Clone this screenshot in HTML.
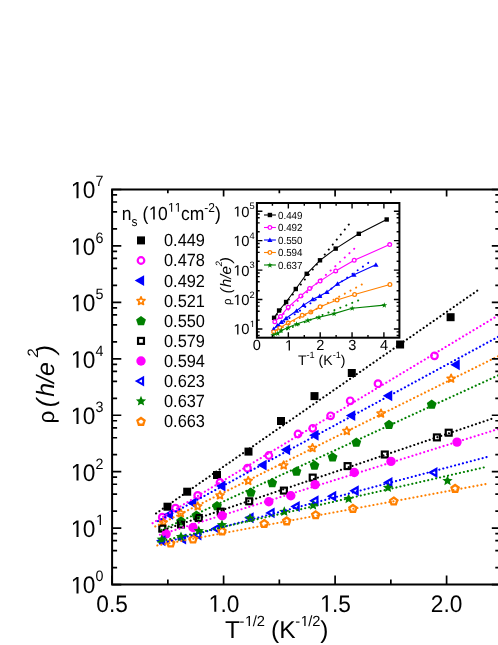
<!DOCTYPE html><html><head><meta charset="utf-8"><style>html,body{margin:0;padding:0;background:#fff}svg{display:block;will-change:transform}text{font-family:"Liberation Sans",sans-serif;fill:#000;text-rendering:geometricPrecision}</style></head><body>
<svg width="498" height="645" viewBox="0 0 498 645">
<rect width="498" height="645" fill="#fff"/>
<rect x="163.50" y="502.70" width="8.00" height="8.00" fill="#000"/>
<rect x="183.20" y="487.70" width="8.00" height="8.00" fill="#000"/>
<rect x="213.00" y="471.00" width="8.00" height="8.00" fill="#000"/>
<rect x="244.50" y="447.60" width="8.00" height="8.00" fill="#000"/>
<rect x="277.00" y="417.00" width="8.00" height="8.00" fill="#000"/>
<rect x="310.50" y="392.10" width="8.00" height="8.00" fill="#000"/>
<rect x="347.80" y="369.00" width="8.00" height="8.00" fill="#000"/>
<rect x="396.10" y="340.50" width="8.00" height="8.00" fill="#000"/>
<rect x="446.60" y="313.20" width="8.00" height="8.00" fill="#000"/>
<circle cx="162.30" cy="517.20" r="3.30" fill="none" stroke="#ff00ff" stroke-width="2.20"/>
<circle cx="175.50" cy="508.20" r="3.30" fill="none" stroke="#ff00ff" stroke-width="2.20"/>
<circle cx="197.70" cy="495.40" r="3.30" fill="none" stroke="#ff00ff" stroke-width="2.20"/>
<circle cx="220.00" cy="482.50" r="3.30" fill="none" stroke="#ff00ff" stroke-width="2.20"/>
<circle cx="247.50" cy="468.20" r="3.30" fill="none" stroke="#ff00ff" stroke-width="2.20"/>
<circle cx="268.80" cy="455.50" r="3.30" fill="none" stroke="#ff00ff" stroke-width="2.20"/>
<circle cx="298.00" cy="434.00" r="3.30" fill="none" stroke="#ff00ff" stroke-width="2.20"/>
<circle cx="312.70" cy="428.30" r="3.30" fill="none" stroke="#ff00ff" stroke-width="2.20"/>
<circle cx="330.60" cy="415.80" r="3.30" fill="none" stroke="#ff00ff" stroke-width="2.20"/>
<circle cx="350.20" cy="400.80" r="3.30" fill="none" stroke="#ff00ff" stroke-width="2.20"/>
<circle cx="378.00" cy="383.70" r="3.30" fill="none" stroke="#ff00ff" stroke-width="2.20"/>
<circle cx="434.50" cy="355.80" r="3.30" fill="none" stroke="#ff00ff" stroke-width="2.20"/>
<polygon points="163.60,514.40 173.05,508.94 173.05,519.86" fill="#0000ff"/>
<polygon points="187.00,503.00 196.45,497.54 196.45,508.46" fill="#0000ff"/>
<polygon points="216.00,486.00 225.45,480.54 225.45,491.46" fill="#0000ff"/>
<polygon points="257.20,465.10 266.65,459.64 266.65,470.56" fill="#0000ff"/>
<polygon points="280.70,449.70 290.15,444.24 290.15,455.16" fill="#0000ff"/>
<polygon points="309.10,435.30 318.55,429.84 318.55,440.76" fill="#0000ff"/>
<polygon points="345.80,415.60 355.25,410.14 355.25,421.06" fill="#0000ff"/>
<polygon points="382.80,395.70 392.25,390.24 392.25,401.16" fill="#0000ff"/>
<polygon points="450.30,364.80 459.75,359.34 459.75,370.26" fill="#0000ff"/>
<polygon points="163.20,518.40 164.32,521.06 167.19,521.30 165.01,523.19 165.67,526.00 163.20,524.50 160.73,526.00 161.39,523.19 159.21,521.30 162.08,521.06" fill="none" stroke="#ff8000" stroke-width="1.70" stroke-linejoin="round"/>
<polygon points="180.80,509.10 181.92,511.76 184.79,512.00 182.61,513.89 183.27,516.70 180.80,515.20 178.33,516.70 178.99,513.89 176.81,512.00 179.68,511.76" fill="none" stroke="#ff8000" stroke-width="1.70" stroke-linejoin="round"/>
<polygon points="197.70,502.10 198.82,504.76 201.69,505.00 199.51,506.89 200.17,509.70 197.70,508.20 195.23,509.70 195.89,506.89 193.71,505.00 196.58,504.76" fill="none" stroke="#ff8000" stroke-width="1.70" stroke-linejoin="round"/>
<polygon points="220.00,491.10 221.12,493.76 223.99,494.00 221.81,495.89 222.47,498.70 220.00,497.20 217.53,498.70 218.19,495.89 216.01,494.00 218.88,493.76" fill="none" stroke="#ff8000" stroke-width="1.70" stroke-linejoin="round"/>
<polygon points="248.20,476.70 249.32,479.36 252.19,479.60 250.01,481.49 250.67,484.30 248.20,482.80 245.73,484.30 246.39,481.49 244.21,479.60 247.08,479.36" fill="none" stroke="#ff8000" stroke-width="1.70" stroke-linejoin="round"/>
<polygon points="283.70,461.20 284.82,463.86 287.69,464.10 285.51,465.99 286.17,468.80 283.70,467.30 281.23,468.80 281.89,465.99 279.71,464.10 282.58,463.86" fill="none" stroke="#ff8000" stroke-width="1.70" stroke-linejoin="round"/>
<polygon points="312.50,443.80 313.62,446.46 316.49,446.70 314.31,448.59 314.97,451.40 312.50,449.90 310.03,451.40 310.69,448.59 308.51,446.70 311.38,446.46" fill="none" stroke="#ff8000" stroke-width="1.70" stroke-linejoin="round"/>
<polygon points="346.80,426.80 347.92,429.46 350.79,429.70 348.61,431.59 349.27,434.40 346.80,432.90 344.33,434.40 344.99,431.59 342.81,429.70 345.68,429.46" fill="none" stroke="#ff8000" stroke-width="1.70" stroke-linejoin="round"/>
<polygon points="381.00,409.30 382.12,411.96 384.99,412.20 382.81,414.09 383.47,416.90 381.00,415.40 378.53,416.90 379.19,414.09 377.01,412.20 379.88,411.96" fill="none" stroke="#ff8000" stroke-width="1.70" stroke-linejoin="round"/>
<polygon points="451.10,374.40 452.22,377.06 455.09,377.30 452.91,379.19 453.57,382.00 451.10,380.50 448.63,382.00 449.29,379.19 447.11,377.30 449.98,377.06" fill="none" stroke="#ff8000" stroke-width="1.70" stroke-linejoin="round"/>
<polygon points="181.00,516.25 185.90,519.81 184.03,525.57 177.97,525.57 176.10,519.81" fill="#008000"/>
<polygon points="196.40,510.55 201.30,514.11 199.43,519.87 193.37,519.87 191.50,514.11" fill="#008000"/>
<polygon points="217.00,501.05 221.90,504.61 220.03,510.37 213.97,510.37 212.10,504.61" fill="#008000"/>
<polygon points="250.80,487.45 255.70,491.01 253.83,496.77 247.77,496.77 245.90,491.01" fill="#008000"/>
<polygon points="272.20,477.85 277.10,481.41 275.23,487.17 269.17,487.17 267.30,481.41" fill="#008000"/>
<polygon points="296.50,466.45 301.40,470.01 299.53,475.77 293.47,475.77 291.60,470.01" fill="#008000"/>
<polygon points="314.50,460.35 319.40,463.91 317.53,469.67 311.47,469.67 309.60,463.91" fill="#008000"/>
<polygon points="332.60,452.25 337.50,455.81 335.63,461.57 329.57,461.57 327.70,455.81" fill="#008000"/>
<polygon points="356.30,437.55 361.20,441.11 359.33,446.87 353.27,446.87 351.40,441.11" fill="#008000"/>
<polygon points="389.00,419.75 393.90,423.31 392.03,429.07 385.97,429.07 384.10,423.31" fill="#008000"/>
<polygon points="431.70,399.45 436.60,403.01 434.73,408.77 428.67,408.77 426.80,403.01" fill="#008000"/>
<rect x="159.35" y="525.65" width="5.90" height="5.90" fill="none" stroke="#000" stroke-width="2.20"/>
<rect x="178.05" y="521.55" width="5.90" height="5.90" fill="none" stroke="#000" stroke-width="2.20"/>
<rect x="195.85" y="515.05" width="5.90" height="5.90" fill="none" stroke="#000" stroke-width="2.20"/>
<rect x="217.75" y="508.65" width="5.90" height="5.90" fill="none" stroke="#000" stroke-width="2.20"/>
<rect x="246.25" y="498.35" width="5.90" height="5.90" fill="none" stroke="#000" stroke-width="2.20"/>
<rect x="280.95" y="487.65" width="5.90" height="5.90" fill="none" stroke="#000" stroke-width="2.20"/>
<rect x="309.75" y="474.65" width="5.90" height="5.90" fill="none" stroke="#000" stroke-width="2.20"/>
<rect x="344.65" y="463.15" width="5.90" height="5.90" fill="none" stroke="#000" stroke-width="2.20"/>
<rect x="381.85" y="451.55" width="5.90" height="5.90" fill="none" stroke="#000" stroke-width="2.20"/>
<rect x="433.95" y="434.45" width="5.90" height="5.90" fill="none" stroke="#000" stroke-width="2.20"/>
<rect x="445.75" y="429.75" width="5.90" height="5.90" fill="none" stroke="#000" stroke-width="2.20"/>
<circle cx="166.10" cy="534.00" r="4.70" fill="#ff00ff"/>
<circle cx="193.00" cy="527.50" r="4.70" fill="#ff00ff"/>
<circle cx="222.20" cy="515.70" r="4.70" fill="#ff00ff"/>
<circle cx="268.80" cy="501.70" r="4.70" fill="#ff00ff"/>
<circle cx="290.80" cy="495.70" r="4.70" fill="#ff00ff"/>
<circle cx="315.10" cy="484.60" r="4.70" fill="#ff00ff"/>
<circle cx="354.30" cy="472.50" r="4.70" fill="#ff00ff"/>
<circle cx="391.00" cy="461.40" r="4.70" fill="#ff00ff"/>
<circle cx="457.00" cy="442.10" r="4.70" fill="#ff00ff"/>
<polygon points="158.20,540.70 164.35,537.15 164.35,544.25" fill="none" stroke="#0000ff" stroke-width="2.20" stroke-linejoin="miter"/>
<polygon points="178.90,539.00 185.05,535.45 185.05,542.55" fill="none" stroke="#0000ff" stroke-width="2.20" stroke-linejoin="miter"/>
<polygon points="194.20,535.00 200.35,531.45 200.35,538.55" fill="none" stroke="#0000ff" stroke-width="2.20" stroke-linejoin="miter"/>
<polygon points="212.70,528.60 218.85,525.05 218.85,532.15" fill="none" stroke="#0000ff" stroke-width="2.20" stroke-linejoin="miter"/>
<polygon points="246.40,517.70 252.55,514.15 252.55,521.25" fill="none" stroke="#0000ff" stroke-width="2.20" stroke-linejoin="miter"/>
<polygon points="267.40,512.90 273.55,509.35 273.55,516.45" fill="none" stroke="#0000ff" stroke-width="2.20" stroke-linejoin="miter"/>
<polygon points="292.50,506.50 298.65,502.95 298.65,510.05" fill="none" stroke="#0000ff" stroke-width="2.20" stroke-linejoin="miter"/>
<polygon points="311.30,500.80 317.45,497.25 317.45,504.35" fill="none" stroke="#0000ff" stroke-width="2.20" stroke-linejoin="miter"/>
<polygon points="329.00,496.20 335.15,492.65 335.15,499.75" fill="none" stroke="#0000ff" stroke-width="2.20" stroke-linejoin="miter"/>
<polygon points="351.50,490.80 357.65,487.25 357.65,494.35" fill="none" stroke="#0000ff" stroke-width="2.20" stroke-linejoin="miter"/>
<polygon points="385.20,482.50 391.35,478.95 391.35,486.05" fill="none" stroke="#0000ff" stroke-width="2.20" stroke-linejoin="miter"/>
<polygon points="430.20,472.50 436.35,468.95 436.35,476.05" fill="none" stroke="#0000ff" stroke-width="2.20" stroke-linejoin="miter"/>
<polygon points="161.80,534.00 163.27,537.38 166.94,537.73 164.18,540.17 164.97,543.77 161.80,541.90 158.63,543.77 159.42,540.17 156.66,537.73 160.33,537.38" fill="#008000"/>
<polygon points="181.00,531.40 182.47,534.78 186.14,535.13 183.38,537.57 184.17,541.17 181.00,539.30 177.83,541.17 178.62,537.57 175.86,535.13 179.53,534.78" fill="#008000"/>
<polygon points="198.80,525.60 200.27,528.98 203.94,529.33 201.18,531.77 201.97,535.37 198.80,533.50 195.63,535.37 196.42,531.77 193.66,529.33 197.33,528.98" fill="#008000"/>
<polygon points="222.00,519.60 223.47,522.98 227.14,523.33 224.38,525.77 225.17,529.37 222.00,527.50 218.83,529.37 219.62,525.77 216.86,523.33 220.53,522.98" fill="#008000"/>
<polygon points="250.00,513.00 251.47,516.38 255.14,516.73 252.38,519.17 253.17,522.77 250.00,520.90 246.83,522.77 247.62,519.17 244.86,516.73 248.53,516.38" fill="#008000"/>
<polygon points="284.30,506.30 285.77,509.68 289.44,510.03 286.68,512.47 287.47,516.07 284.30,514.20 281.13,516.07 281.92,512.47 279.16,510.03 282.83,509.68" fill="#008000"/>
<polygon points="313.10,499.90 314.57,503.28 318.24,503.63 315.48,506.07 316.27,509.67 313.10,507.80 309.93,509.67 310.72,506.07 307.96,503.63 311.63,503.28" fill="#008000"/>
<polygon points="348.60,493.40 350.07,496.78 353.74,497.13 350.98,499.57 351.77,503.17 348.60,501.30 345.43,503.17 346.22,499.57 343.46,497.13 347.13,496.78" fill="#008000"/>
<polygon points="388.00,482.30 389.47,485.68 393.14,486.03 390.38,488.47 391.17,492.07 388.00,490.20 384.83,492.07 385.62,488.47 382.86,486.03 386.53,485.68" fill="#008000"/>
<polygon points="447.50,475.40 448.97,478.78 452.64,479.13 449.88,481.57 450.67,485.17 447.50,483.30 444.33,485.17 445.12,481.57 442.36,479.13 446.03,478.78" fill="#008000"/>
<polygon points="170.70,539.65 174.27,542.24 172.90,546.43 168.50,546.43 167.13,542.24" fill="none" stroke="#ff8000" stroke-width="2.30" stroke-linejoin="miter"/>
<polygon points="193.00,535.65 196.57,538.24 195.20,542.43 190.80,542.43 189.43,538.24" fill="none" stroke="#ff8000" stroke-width="2.30" stroke-linejoin="miter"/>
<polygon points="222.00,527.65 225.57,530.24 224.20,534.43 219.80,534.43 218.43,530.24" fill="none" stroke="#ff8000" stroke-width="2.30" stroke-linejoin="miter"/>
<polygon points="264.20,520.05 267.77,522.64 266.40,526.83 262.00,526.83 260.63,522.64" fill="none" stroke="#ff8000" stroke-width="2.30" stroke-linejoin="miter"/>
<polygon points="286.70,517.45 290.27,520.04 288.90,524.23 284.50,524.23 283.13,520.04" fill="none" stroke="#ff8000" stroke-width="2.30" stroke-linejoin="miter"/>
<polygon points="315.70,511.35 319.27,513.94 317.90,518.13 313.50,518.13 312.13,513.94" fill="none" stroke="#ff8000" stroke-width="2.30" stroke-linejoin="miter"/>
<polygon points="352.90,504.95 356.47,507.54 355.10,511.73 350.70,511.73 349.33,507.54" fill="none" stroke="#ff8000" stroke-width="2.30" stroke-linejoin="miter"/>
<polygon points="393.70,497.55 397.27,500.14 395.90,504.33 391.50,504.33 390.13,500.14" fill="none" stroke="#ff8000" stroke-width="2.30" stroke-linejoin="miter"/>
<polygon points="455.10,484.95 458.67,487.54 457.30,491.73 452.90,491.73 451.53,487.54" fill="none" stroke="#ff8000" stroke-width="2.30" stroke-linejoin="miter"/>
<line x1="477.2" y1="290.7" x2="155.6" y2="513.7" stroke="#000" stroke-width="2.1" stroke-dasharray="0.1 3.97" stroke-linecap="round"/>
<line x1="498" y1="315.5" x2="151.4" y2="523.8" stroke="#ff00ff" stroke-width="2.1" stroke-dasharray="0.1 3.97" stroke-linecap="round"/>
<line x1="498" y1="336.9" x2="157" y2="521.6" stroke="#0000ff" stroke-width="2.1" stroke-dasharray="0.1 3.97" stroke-linecap="round"/>
<line x1="498" y1="356.3" x2="153.2" y2="527.5" stroke="#ff8000" stroke-width="2.1" stroke-dasharray="0.1 3.97" stroke-linecap="round"/>
<line x1="498" y1="375.5" x2="158" y2="531.5" stroke="#008000" stroke-width="2.1" stroke-dasharray="0.1 3.97" stroke-linecap="round"/>
<line x1="491.4" y1="418.9" x2="157.9" y2="531.8" stroke="#000" stroke-width="2.1" stroke-dasharray="0.1 3.97" stroke-linecap="round"/>
<line x1="498" y1="429.1" x2="156.2" y2="535.9" stroke="#ff00ff" stroke-width="2.1" stroke-dasharray="0.1 3.97" stroke-linecap="round"/>
<line x1="486.6" y1="457.1" x2="156.2" y2="544.7" stroke="#0000ff" stroke-width="2.1" stroke-dasharray="0.1 3.97" stroke-linecap="round"/>
<line x1="483.8" y1="467.5" x2="156" y2="542.3" stroke="#008000" stroke-width="2.1" stroke-dasharray="0.1 3.97" stroke-linecap="round"/>
<line x1="485.5" y1="484.1" x2="157" y2="545.5" stroke="#ff8000" stroke-width="2.1" stroke-dasharray="0.1 3.97" stroke-linecap="round"/>
<path d="M502 189.5 H112.1 V584.6 H502" fill="none" stroke="#000" stroke-width="2" stroke-linejoin="miter"/>
<path d="M112.1 584.60 h9.2 M499 584.60 h-7.2 M112.1 567.61 h5.0 M499 567.61 h-3.7 M112.1 550.62 h5.0 M499 550.62 h-3.7 M112.1 540.68 h5.0 M499 540.68 h-3.7 M112.1 533.63 h5.0 M499 533.63 h-3.7 M112.1 528.16 h9.2 M499 528.16 h-7.2 M112.1 511.17 h5.0 M499 511.17 h-3.7 M112.1 494.18 h5.0 M499 494.18 h-3.7 M112.1 484.24 h5.0 M499 484.24 h-3.7 M112.1 477.18 h5.0 M499 477.18 h-3.7 M112.1 471.71 h9.2 M499 471.71 h-7.2 M112.1 454.72 h5.0 M499 454.72 h-3.7 M112.1 437.73 h5.0 M499 437.73 h-3.7 M112.1 427.79 h5.0 M499 427.79 h-3.7 M112.1 420.74 h5.0 M499 420.74 h-3.7 M112.1 415.27 h9.2 M499 415.27 h-7.2 M112.1 398.28 h5.0 M499 398.28 h-3.7 M112.1 381.29 h5.0 M499 381.29 h-3.7 M112.1 371.35 h5.0 M499 371.35 h-3.7 M112.1 364.30 h5.0 M499 364.30 h-3.7 M112.1 358.83 h9.2 M499 358.83 h-7.2 M112.1 341.84 h5.0 M499 341.84 h-3.7 M112.1 324.85 h5.0 M499 324.85 h-3.7 M112.1 314.91 h5.0 M499 314.91 h-3.7 M112.1 307.86 h5.0 M499 307.86 h-3.7 M112.1 302.39 h9.2 M499 302.39 h-7.2 M112.1 285.39 h5.0 M499 285.39 h-3.7 M112.1 268.40 h5.0 M499 268.40 h-3.7 M112.1 258.46 h5.0 M499 258.46 h-3.7 M112.1 251.41 h5.0 M499 251.41 h-3.7 M112.1 245.94 h9.2 M499 245.94 h-7.2 M112.1 228.95 h5.0 M499 228.95 h-3.7 M112.1 211.96 h5.0 M499 211.96 h-3.7 M112.1 202.02 h5.0 M499 202.02 h-3.7 M112.1 194.97 h5.0 M499 194.97 h-3.7 M112.1 189.50 h9.2 M499 189.50 h-7.2 M112.10 584.6 v-9.2 M112.10 189.5 v7.1 M167.85 584.6 v-5.0 M167.85 189.5 v3.7 M223.60 584.6 v-9.2 M223.60 189.5 v7.1 M279.35 584.6 v-5.0 M279.35 189.5 v3.7 M335.10 584.6 v-9.2 M335.10 189.5 v7.1 M390.85 584.6 v-5.0 M390.85 189.5 v3.7 M446.60 584.6 v-9.2 M446.60 189.5 v7.1 M502.35 584.6 v-5.0 M502.35 189.5 v3.7" fill="none" stroke="#000" stroke-width="1.7"/>
<polygon points="76.51,593.40 76.51,579.00 72.99,581.65 72.99,579.67 76.68,577.00 78.52,577.00 78.52,593.40" fill="#000"/><text transform="translate(82.68 593.40) scale(1 1.05)" font-size="22.7">0</text>
<text transform="translate(95.60 581.40) scale(1 1.05)" font-size="14.3">0</text>
<polygon points="76.51,536.96 76.51,522.56 72.99,525.20 72.99,523.22 76.68,520.56 78.52,520.56 78.52,536.96" fill="#000"/><text transform="translate(82.68 536.96) scale(1 1.05)" font-size="22.7">0</text>
<polygon points="99.67,524.96 99.67,515.89 97.45,517.55 97.45,516.31 99.78,514.63 100.93,514.63 100.93,524.96" fill="#000"/>
<polygon points="76.51,480.51 76.51,466.12 72.99,468.76 72.99,466.78 76.68,464.12 78.52,464.12 78.52,480.51" fill="#000"/><text transform="translate(82.68 480.51) scale(1 1.05)" font-size="22.7">0</text>
<text transform="translate(95.60 468.51) scale(1 1.05)" font-size="14.3">2</text>
<polygon points="76.51,424.07 76.51,409.67 72.99,412.32 72.99,410.34 76.68,407.67 78.52,407.67 78.52,424.07" fill="#000"/><text transform="translate(82.68 424.07) scale(1 1.05)" font-size="22.7">0</text>
<text transform="translate(95.60 412.07) scale(1 1.05)" font-size="14.3">3</text>
<polygon points="76.51,367.63 76.51,353.23 72.99,355.87 72.99,353.90 76.68,351.23 78.52,351.23 78.52,367.63" fill="#000"/><text transform="translate(82.68 367.63) scale(1 1.05)" font-size="22.7">0</text>
<text transform="translate(95.60 355.63) scale(1 1.05)" font-size="14.3">4</text>
<polygon points="76.51,311.19 76.51,296.79 72.99,299.43 72.99,297.45 76.68,294.79 78.52,294.79 78.52,311.19" fill="#000"/><text transform="translate(82.68 311.19) scale(1 1.05)" font-size="22.7">0</text>
<text transform="translate(95.60 299.19) scale(1 1.05)" font-size="14.3">5</text>
<polygon points="76.51,254.74 76.51,240.35 72.99,242.99 72.99,241.01 76.68,238.34 78.52,238.34 78.52,254.74" fill="#000"/><text transform="translate(82.68 254.74) scale(1 1.05)" font-size="22.7">0</text>
<text transform="translate(95.60 242.74) scale(1 1.05)" font-size="14.3">6</text>
<polygon points="76.51,198.30 76.51,183.90 72.99,186.55 72.99,184.57 76.68,181.90 78.52,181.90 78.52,198.30" fill="#000"/><text transform="translate(82.68 198.30) scale(1 1.05)" font-size="22.7">0</text>
<text transform="translate(95.60 186.30) scale(1 1.05)" font-size="14.3">7</text>
<text transform="translate(96.32 611.70) scale(1 1.05)" font-size="22.7">0.5</text>
<polygon points="214.28,611.70 214.28,597.30 210.76,599.95 210.76,597.97 214.45,595.30 216.29,595.30 216.29,611.70" fill="#000"/><text transform="translate(220.45 611.70) scale(1 1.05)" font-size="22.7">.0</text>
<polygon points="325.78,611.70 325.78,597.30 322.26,599.95 322.26,597.97 325.95,595.30 327.79,595.30 327.79,611.70" fill="#000"/><text transform="translate(331.95 611.70) scale(1 1.05)" font-size="22.7">.5</text>
<text transform="translate(430.82 611.70) scale(1 1.05)" font-size="22.7">2.0</text>
<text transform="translate(225.00 638.40) scale(1 1.0)" font-size="24.5">T</text>
<text transform="translate(239.57 626.10) scale(1 1.0)" font-size="14.7">-</text><polygon points="248.65,626.10 248.65,617.22 246.36,618.85 246.36,617.63 248.75,615.99 249.94,615.99 249.94,626.10" fill="#000"/><text transform="translate(252.64 626.10) scale(1 1.0)" font-size="14.7">/2</text>
<text transform="translate(271.10 638.40) scale(1 1.0)" font-size="24.5">(K</text>
<text transform="translate(295.20 626.10) scale(1 1.0)" font-size="14.7">-</text><polygon points="304.28,626.10 304.28,617.22 302.00,618.85 302.00,617.63 304.39,615.99 305.58,615.99 305.58,626.10" fill="#000"/><text transform="translate(308.27 626.10) scale(1 1.0)" font-size="14.7">/2</text>
<text transform="translate(320.23 638.40) scale(1 1.0)" font-size="24.5">)</text>
<text transform="translate(54.2 423.5) rotate(-90)" font-size="25"><tspan font-size="22.5">ρ</tspan><tspan font-style="italic" dx="-3.6"> (<tspan dx="2.2">h/e</tspan><tspan font-size="15" dy="-16.2" dx="4.8">2</tspan><tspan dy="16.2" dx="-4.3">)</tspan></tspan></text>
<text transform="translate(121.80 219.60) scale(1 1.08)" font-size="17.5">n</text>
<text transform="translate(131.53 226.40) scale(1 1.08)" font-size="12">s</text>
<text transform="translate(142.39 219.60) scale(1 1.08)" font-size="17.5">(</text>
<polygon points="153.20,219.60 153.20,208.18 150.49,210.28 150.49,208.71 153.33,206.60 154.75,206.60 154.75,219.60" fill="#000"/><text transform="translate(157.96 219.60) scale(1 1.08)" font-size="17.5">0</text>
<polygon points="171.10,211.82 171.10,204.00 169.24,205.43 169.24,204.36 171.19,202.91 172.16,202.91 172.16,211.82" fill="#000"/><polygon points="177.78,211.82 177.78,204.00 175.91,205.43 175.91,204.36 177.87,202.91 178.84,202.91 178.84,211.82" fill="#000"/>
<text transform="translate(181.04 219.60) scale(1 1.08)" font-size="17.5">cm</text>
<text transform="translate(204.36 211.82) scale(1 1.08)" font-size="12">-2</text>
<text transform="translate(215.03 219.60) scale(1 1.08)" font-size="17.5">)</text>
<rect x="137.00" y="236.40" width="8.00" height="8.00" fill="#000"/>
<text transform="translate(164 246.30) scale(1 1.08)" font-size="16.35">0.449</text>
<circle cx="141.00" cy="260.50" r="3.30" fill="none" stroke="#ff00ff" stroke-width="2.20"/>
<text transform="translate(164 266.40) scale(1 1.08)" font-size="16.35">0.478</text>
<polygon points="134.70,280.60 144.15,275.14 144.15,286.06" fill="#0000ff"/>
<text transform="translate(164 286.50) scale(1 1.08)" font-size="16.35">0.492</text>
<polygon points="141.00,296.80 142.12,299.46 144.99,299.70 142.81,301.59 143.47,304.40 141.00,302.90 138.53,304.40 139.19,301.59 137.01,299.70 139.88,299.46" fill="none" stroke="#ff8000" stroke-width="1.70" stroke-linejoin="round"/>
<text transform="translate(164 306.60) scale(1 1.08)" font-size="16.35">0.521</text>
<polygon points="141.00,316.05 145.90,319.61 144.03,325.37 137.97,325.37 136.10,319.61" fill="#008000"/>
<text transform="translate(164 326.70) scale(1 1.08)" font-size="16.35">0.550</text>
<rect x="138.05" y="337.95" width="5.90" height="5.90" fill="none" stroke="#000" stroke-width="2.20"/>
<text transform="translate(164 346.80) scale(1 1.08)" font-size="16.35">0.579</text>
<circle cx="141.00" cy="361.00" r="4.70" fill="#ff00ff"/>
<text transform="translate(164 366.90) scale(1 1.08)" font-size="16.35">0.594</text>
<polygon points="136.90,381.10 143.05,377.55 143.05,384.65" fill="none" stroke="#0000ff" stroke-width="2.20" stroke-linejoin="miter"/>
<text transform="translate(164 387.00) scale(1 1.08)" font-size="16.35">0.623</text>
<polygon points="141.00,395.80 142.47,399.18 146.14,399.53 143.38,401.97 144.17,405.57 141.00,403.70 137.83,405.57 138.62,401.97 135.86,399.53 139.53,399.18" fill="#008000"/>
<text transform="translate(164 407.10) scale(1 1.08)" font-size="16.35">0.637</text>
<polygon points="141.00,417.95 144.57,420.54 143.20,424.73 138.80,424.73 137.43,420.54" fill="none" stroke="#ff8000" stroke-width="2.30" stroke-linejoin="miter"/>
<text transform="translate(164 427.20) scale(1 1.08)" font-size="16.35">0.663</text>
<rect x="256.9" y="203.0" width="142.5" height="134.7" fill="#fff" stroke="none"/>
<polyline points="274.1,317.8 279.1,310.5 286.1,302 295.8,289 306.7,273.8 320,260.3 335.7,248.6 358.8,233.8 386.7,219.5" fill="none" stroke="#000" stroke-width="1.1"/>
<rect x="271.90" y="315.60" width="4.4" height="4.4" fill="#000"/>
<rect x="276.90" y="308.30" width="4.4" height="4.4" fill="#000"/>
<rect x="283.90" y="299.80" width="4.4" height="4.4" fill="#000"/>
<rect x="293.60" y="286.80" width="4.4" height="4.4" fill="#000"/>
<rect x="304.50" y="271.60" width="4.4" height="4.4" fill="#000"/>
<rect x="317.80" y="258.10" width="4.4" height="4.4" fill="#000"/>
<rect x="333.50" y="246.40" width="4.4" height="4.4" fill="#000"/>
<rect x="356.60" y="231.60" width="4.4" height="4.4" fill="#000"/>
<rect x="384.50" y="217.30" width="4.4" height="4.4" fill="#000"/>
<polyline points="274.8,321.7 280.5,316.4 288.2,307.2 300.8,296 309.6,288.4 320.1,281.1 335.7,270.9 354.2,260.3 389.7,244.6" fill="none" stroke="#ff00ff" stroke-width="1.1"/>
<circle cx="274.80" cy="321.70" r="1.85" fill="#fff" stroke="#ff00ff" stroke-width="1.3"/>
<circle cx="280.50" cy="316.40" r="1.85" fill="#fff" stroke="#ff00ff" stroke-width="1.3"/>
<circle cx="288.20" cy="307.20" r="1.85" fill="#fff" stroke="#ff00ff" stroke-width="1.3"/>
<circle cx="300.80" cy="296.00" r="1.85" fill="#fff" stroke="#ff00ff" stroke-width="1.3"/>
<circle cx="309.60" cy="288.40" r="1.85" fill="#fff" stroke="#ff00ff" stroke-width="1.3"/>
<circle cx="320.10" cy="281.10" r="1.85" fill="#fff" stroke="#ff00ff" stroke-width="1.3"/>
<circle cx="335.70" cy="270.90" r="1.85" fill="#fff" stroke="#ff00ff" stroke-width="1.3"/>
<circle cx="354.20" cy="260.30" r="1.85" fill="#fff" stroke="#ff00ff" stroke-width="1.3"/>
<circle cx="389.70" cy="244.60" r="1.85" fill="#fff" stroke="#ff00ff" stroke-width="1.3"/>
<polyline points="273.7,329 277.4,325.5 281.4,322 286.1,318.2 296.6,310.8 303.7,305.1 312.8,299.2 319.7,295.9 327,292.1 337.6,283.7 354,274.8 375.9,264.7" fill="none" stroke="#0000ff" stroke-width="1.1"/>
<polygon points="273.70,326.50 276.30,331.00 271.10,331.00" fill="#0000ff"/>
<polygon points="277.40,323.00 280.00,327.50 274.80,327.50" fill="#0000ff"/>
<polygon points="281.40,319.50 284.00,324.00 278.80,324.00" fill="#0000ff"/>
<polygon points="286.10,315.70 288.70,320.20 283.50,320.20" fill="#0000ff"/>
<polygon points="296.60,308.30 299.20,312.80 294.00,312.80" fill="#0000ff"/>
<polygon points="303.70,302.60 306.30,307.10 301.10,307.10" fill="#0000ff"/>
<polygon points="312.80,296.70 315.40,301.20 310.20,301.20" fill="#0000ff"/>
<polygon points="319.70,293.40 322.30,297.90 317.10,297.90" fill="#0000ff"/>
<polygon points="327.00,289.60 329.60,294.10 324.40,294.10" fill="#0000ff"/>
<polygon points="337.60,281.20 340.20,285.70 335.00,285.70" fill="#0000ff"/>
<polygon points="354.00,272.30 356.60,276.80 351.40,276.80" fill="#0000ff"/>
<polygon points="375.90,262.20 378.50,266.70 373.30,266.70" fill="#0000ff"/>
<polyline points="273.7,331.8 279.8,327.6 288.2,323.1 302.2,315.3 310.8,312 320.1,306.8 337.1,300.1 354.6,294.5 389.9,284.5" fill="none" stroke="#ff8000" stroke-width="1.1"/>
<circle cx="273.70" cy="331.80" r="1.85" fill="#fff" stroke="#ff8000" stroke-width="1.3"/>
<circle cx="279.80" cy="327.60" r="1.85" fill="#fff" stroke="#ff8000" stroke-width="1.3"/>
<circle cx="288.20" cy="323.10" r="1.85" fill="#fff" stroke="#ff8000" stroke-width="1.3"/>
<circle cx="302.20" cy="315.30" r="1.85" fill="#fff" stroke="#ff8000" stroke-width="1.3"/>
<circle cx="310.80" cy="312.00" r="1.85" fill="#fff" stroke="#ff8000" stroke-width="1.3"/>
<circle cx="320.10" cy="306.80" r="1.85" fill="#fff" stroke="#ff8000" stroke-width="1.3"/>
<circle cx="337.10" cy="300.10" r="1.85" fill="#fff" stroke="#ff8000" stroke-width="1.3"/>
<circle cx="354.60" cy="294.50" r="1.85" fill="#fff" stroke="#ff8000" stroke-width="1.3"/>
<circle cx="389.90" cy="284.50" r="1.85" fill="#fff" stroke="#ff8000" stroke-width="1.3"/>
<polyline points="273.2,334.9 277.7,333.3 281.2,330.4 288.2,327.6 296.6,324.1 307.9,320.3 319,317.3 334.1,313.6 352.2,308.2 384.3,305.1" fill="none" stroke="#008000" stroke-width="1.1"/>
<polygon points="273.20,332.10 273.91,334.13 276.05,334.17 274.34,335.47 274.96,337.53 273.20,336.30 271.44,337.53 272.06,335.47 270.35,334.17 272.49,334.13" fill="#008000"/>
<polygon points="277.70,330.50 278.41,332.53 280.55,332.57 278.84,333.87 279.46,335.93 277.70,334.70 275.94,335.93 276.56,333.87 274.85,332.57 276.99,332.53" fill="#008000"/>
<polygon points="281.20,327.60 281.91,329.63 284.05,329.67 282.34,330.97 282.96,333.03 281.20,331.80 279.44,333.03 280.06,330.97 278.35,329.67 280.49,329.63" fill="#008000"/>
<polygon points="288.20,324.80 288.91,326.83 291.05,326.87 289.34,328.17 289.96,330.23 288.20,329.00 286.44,330.23 287.06,328.17 285.35,326.87 287.49,326.83" fill="#008000"/>
<polygon points="296.60,321.30 297.31,323.33 299.45,323.37 297.74,324.67 298.36,326.73 296.60,325.50 294.84,326.73 295.46,324.67 293.75,323.37 295.89,323.33" fill="#008000"/>
<polygon points="307.90,317.50 308.61,319.53 310.75,319.57 309.04,320.87 309.66,322.93 307.90,321.70 306.14,322.93 306.76,320.87 305.05,319.57 307.19,319.53" fill="#008000"/>
<polygon points="319.00,314.50 319.71,316.53 321.85,316.57 320.14,317.87 320.76,319.93 319.00,318.70 317.24,319.93 317.86,317.87 316.15,316.57 318.29,316.53" fill="#008000"/>
<polygon points="334.10,310.80 334.81,312.83 336.95,312.87 335.24,314.17 335.86,316.23 334.10,315.00 332.34,316.23 332.96,314.17 331.25,312.87 333.39,312.83" fill="#008000"/>
<polygon points="352.20,305.40 352.91,307.43 355.05,307.47 353.34,308.77 353.96,310.83 352.20,309.60 350.44,310.83 351.06,308.77 349.35,307.47 351.49,307.43" fill="#008000"/>
<polygon points="384.30,302.30 385.01,304.33 387.15,304.37 385.44,305.67 386.06,307.73 384.30,306.50 382.54,307.73 383.16,305.67 381.45,304.37 383.59,304.33" fill="#008000"/>
<line x1="348.8" y1="224.5" x2="274" y2="318" stroke="#000" stroke-width="2.0" stroke-dasharray="0.1 6.3" stroke-linecap="round"/>
<line x1="354.2" y1="248.8" x2="274.8" y2="322" stroke="#ff00ff" stroke-width="2.0" stroke-dasharray="0.1 6.3" stroke-linecap="round"/>
<line x1="368.2" y1="262.9" x2="273.7" y2="329" stroke="#0000ff" stroke-width="2.0" stroke-dasharray="0.1 6.3" stroke-linecap="round"/>
<line x1="361.8" y1="284.5" x2="273.7" y2="332" stroke="#ff8000" stroke-width="2.0" stroke-dasharray="0.1 6.3" stroke-linecap="round"/>
<line x1="358.2" y1="300.5" x2="273" y2="335" stroke="#008000" stroke-width="2.0" stroke-dasharray="0.1 6.3" stroke-linecap="round"/>
<rect x="256.9" y="203.0" width="142.5" height="134.7" fill="none" stroke="#000" stroke-width="2.0"/>
<path d="M256.9 335.53 h2.8 M399.4 335.53 h-2.8 M256.9 331.85 h2.8 M399.4 331.85 h-2.8 M256.9 329.00 h5.5 M399.4 329.00 h-5.5 M256.9 320.13 h2.8 M399.4 320.13 h-2.8 M256.9 311.27 h2.8 M399.4 311.27 h-2.8 M256.9 306.08 h2.8 M399.4 306.08 h-2.8 M256.9 302.40 h2.8 M399.4 302.40 h-2.8 M256.9 299.55 h5.5 M399.4 299.55 h-5.5 M256.9 290.68 h2.8 M399.4 290.68 h-2.8 M256.9 281.82 h2.8 M399.4 281.82 h-2.8 M256.9 276.63 h2.8 M399.4 276.63 h-2.8 M256.9 272.95 h2.8 M399.4 272.95 h-2.8 M256.9 270.10 h5.5 M399.4 270.10 h-5.5 M256.9 261.23 h2.8 M399.4 261.23 h-2.8 M256.9 252.37 h2.8 M399.4 252.37 h-2.8 M256.9 247.18 h2.8 M399.4 247.18 h-2.8 M256.9 243.50 h2.8 M399.4 243.50 h-2.8 M256.9 240.65 h5.5 M399.4 240.65 h-5.5 M256.9 231.78 h2.8 M399.4 231.78 h-2.8 M256.9 222.92 h2.8 M399.4 222.92 h-2.8 M256.9 217.73 h2.8 M399.4 217.73 h-2.8 M256.9 214.05 h2.8 M399.4 214.05 h-2.8 M256.9 211.20 h5.5 M399.4 211.20 h-5.5 M256.90 337.7 v-5.5 M256.90 203.0 v5.5 M272.43 337.7 v-2.8 M272.43 203.0 v2.8 M288.35 337.7 v-5.5 M288.35 203.0 v5.5 M304.27 337.7 v-2.8 M304.27 203.0 v2.8 M320.20 337.7 v-5.5 M320.20 203.0 v5.5 M336.12 337.7 v-2.8 M336.12 203.0 v2.8 M352.05 337.7 v-5.5 M352.05 203.0 v5.5 M367.98 337.7 v-2.8 M367.98 203.0 v2.8 M383.90 337.7 v-5.5 M383.90 203.0 v5.5" fill="none" stroke="#000" stroke-width="1.4"/>
<polygon points="237.15,334.40 237.15,325.46 234.85,327.10 234.85,325.87 237.26,324.22 238.46,324.22 238.46,334.40" fill="#000"/><text transform="translate(241.17 334.40) scale(1 1.0)" font-size="14.8">0</text>
<polygon points="252.25,327.10 252.25,321.48 250.80,322.51 250.80,321.74 252.32,320.70 253.07,320.70 253.07,327.10" fill="#000"/>
<polygon points="237.15,304.95 237.15,296.01 234.85,297.65 234.85,296.42 237.26,294.77 238.46,294.77 238.46,304.95" fill="#000"/><text transform="translate(241.17 304.95) scale(1 1.0)" font-size="14.8">0</text>
<text transform="translate(249.60 297.65) scale(1 1.0)" font-size="9.3">2</text>
<polygon points="237.15,275.50 237.15,266.56 234.85,268.20 234.85,266.97 237.26,265.32 238.46,265.32 238.46,275.50" fill="#000"/><text transform="translate(241.17 275.50) scale(1 1.0)" font-size="14.8">0</text>
<text transform="translate(249.60 268.20) scale(1 1.0)" font-size="9.3">3</text>
<polygon points="237.15,246.05 237.15,237.11 234.85,238.75 234.85,237.52 237.26,235.87 238.46,235.87 238.46,246.05" fill="#000"/><text transform="translate(241.17 246.05) scale(1 1.0)" font-size="14.8">0</text>
<text transform="translate(249.60 238.75) scale(1 1.0)" font-size="9.3">4</text>
<polygon points="237.15,216.60 237.15,207.66 234.85,209.30 234.85,208.07 237.26,206.42 238.46,206.42 238.46,216.60" fill="#000"/><text transform="translate(241.17 216.60) scale(1 1.0)" font-size="14.8">0</text>
<text transform="translate(249.60 209.30) scale(1 1.0)" font-size="9.3">5</text>
<text transform="translate(252.64 350.40) scale(1 1.0)" font-size="14.6">0</text>
<polygon points="288.65,350.40 288.65,341.58 286.38,343.20 286.38,341.99 288.75,340.36 289.94,340.36 289.94,350.40" fill="#000"/>
<text transform="translate(316.34 350.40) scale(1 1.0)" font-size="14.6">2</text>
<text transform="translate(348.19 350.40) scale(1 1.0)" font-size="14.6">3</text>
<text transform="translate(380.04 350.40) scale(1 1.0)" font-size="14.6">4</text>
<text x="298" y="364.6" font-size="14">T<tspan font-size="9.2" dy="-6.6">-1</tspan><tspan dy="6.6"> (K</tspan><tspan font-size="9.2" dy="-6.6">-1</tspan><tspan dy="6.6">)</tspan></text>
<text transform="translate(230.8 305.1) rotate(-90)" font-size="15.25"><tspan font-size="11.5">ρ</tspan><tspan font-style="italic" dx="1.0"> (<tspan dx="0.94">h/e</tspan><tspan font-size="9.2" dy="-8.5" dx="-0.07">2</tspan><tspan dy="8.5" dx="-1.22">)</tspan></tspan></text>
<line x1="264" y1="215.00" x2="275.9" y2="215.00" stroke="#000" stroke-width="1.1"/>
<rect x="267.70" y="212.80" width="4.4" height="4.4" fill="#000"/>
<text transform="translate(278 218.60) scale(1 1.05)" font-size="9.8">0.449</text>
<line x1="264" y1="227.50" x2="275.9" y2="227.50" stroke="#ff00ff" stroke-width="1.1"/>
<circle cx="269.90" cy="227.50" r="1.85" fill="#fff" stroke="#ff00ff" stroke-width="1.3"/>
<text transform="translate(278 231.10) scale(1 1.05)" font-size="9.8">0.492</text>
<line x1="264" y1="240.00" x2="275.9" y2="240.00" stroke="#0000ff" stroke-width="1.1"/>
<polygon points="269.90,237.50 272.50,242.00 267.30,242.00" fill="#0000ff"/>
<text transform="translate(278 243.60) scale(1 1.05)" font-size="9.8">0.550</text>
<line x1="264" y1="252.50" x2="275.9" y2="252.50" stroke="#ff8000" stroke-width="1.1"/>
<circle cx="269.90" cy="252.50" r="1.85" fill="#fff" stroke="#ff8000" stroke-width="1.3"/>
<text transform="translate(278 256.10) scale(1 1.05)" font-size="9.8">0.594</text>
<line x1="264" y1="265.00" x2="275.9" y2="265.00" stroke="#008000" stroke-width="1.1"/>
<polygon points="269.90,262.20 270.61,264.23 272.75,264.27 271.04,265.57 271.66,267.63 269.90,266.40 268.14,267.63 268.76,265.57 267.05,264.27 269.19,264.23" fill="#008000"/>
<text transform="translate(278 268.60) scale(1 1.05)" font-size="9.8">0.637</text>
</svg></body></html>
